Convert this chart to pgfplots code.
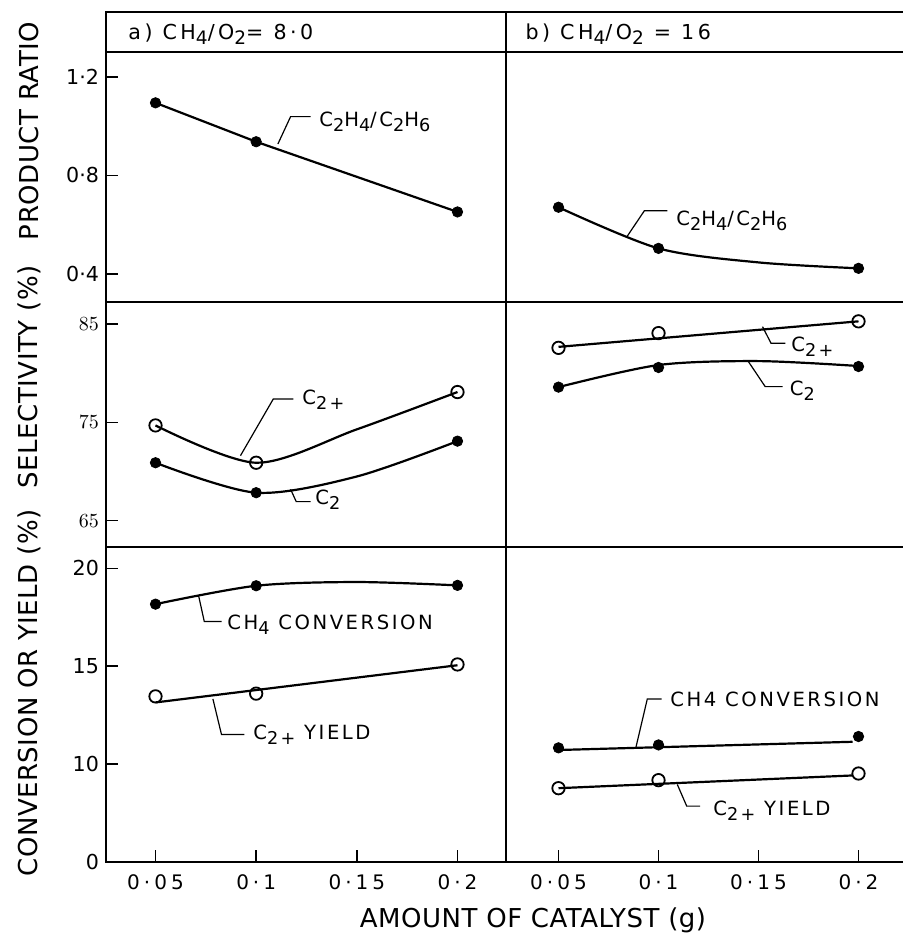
\documentclass[border=0pt]{standalone}
\usepackage{fontspec}
\setmainfont{DejaVu Sans}
\newfontfamily\lfh[LetterSpace=17]{DejaVu Sans}
\newfontfamily\lfa[LetterSpace=13]{DejaVu Sans}
\newfontfamily\lfx[LetterSpace=20]{DejaVu Sans}
\newfontfamily\lfy[LetterSpace=2]{DejaVu Sans}
\usepackage{pgfplots}
\pgfplotsset{compat=1.18}
\newcommand\sub[1]{\raisebox{-0.45ex}{\scalebox{0.9}{#1}}}
\pgfplotsset{
  panel/.style={scale only axis, anchor=south west,
    axis line style={line width=0.8pt},
    tick style={black, line width=0.8pt},
    major tick length=6pt, tick align=inside, tick pos=left,
    yticklabel style={font=\fontsize{10.3}{12}\selectfont},
    xticklabel style={font=\lfx\fontsize{10}{12}\selectfont, yshift=-3pt}},
  lcol/.style={xmin=0.02541, xmax=0.2241, width=200pt},
  rcol/.style={xmin=0.02375, xmax=0.22275, width=199pt},
  dl/.style={black, line width=1.1pt, no marks},
  fm/.style={black, only marks, mark=*, mark size=2.6pt},
  om/.style={black, only marks, mark=o, mark size=3.1pt, mark options={fill=white, line width=0.9pt}},
}
\tikzset{
  lead/.style={black, line width=0.6pt},
  tk/.style={black, line width=0.8pt},
  ann/.style={anchor=base west, inner sep=0pt, font=\lfa\fontsize{9.8}{11}\selectfont},
}
\begin{document}
\begin{tikzpicture}
\path[use as bounding box] (0,0) rectangle (451pt,467.5pt);
% header
\begin{axis}[panel, xtick=\empty, ytick=\empty, width=200pt, height=20pt, at={(53pt,441.5pt)}, xmin=0, xmax=1, ymin=0, ymax=1]
\node[anchor=base west, inner sep=0pt, font=\lfh\fontsize{10.3}{12}\selectfont] at (axis cs:0.055,0.32) {a) CH\sub{4}/O\sub{2}= 8·0};
\end{axis}
\begin{axis}[panel, xtick=\empty, ytick=\empty, width=199pt, height=20pt, at={(253pt,441.5pt)}, xmin=0, xmax=1, ymin=0, ymax=1]
\node[anchor=base west, inner sep=0pt, font=\lfh\fontsize{10.3}{12}\selectfont] at (axis cs:0.048,0.32) {b) CH\sub{4}/O\sub{2} = 16};
\end{axis}
% row 1
\begin{axis}[panel, lcol, xtick=\empty, height=125pt, at={(53pt,316.5pt)}, ymin=0.2863, ymax=1.3015,
  ytick={0.4,0.8,1.2}, yticklabels={0·4,0·8,1·2}]
\addplot[dl] coordinates {(0.05,1.095)(0.1,0.937)(0.2,0.652)};
\addplot[fm] coordinates {(0.05,1.095)(0.1,0.937)(0.2,0.652)};
\pgfplotsinvokeforeach{0.4,0.8,1.2}{\draw[tk] (axis cs:0.02541,#1) -- ++(6pt,0);}
\draw[lead] (axis cs:0.1108,0.928) -- (axis cs:0.1171,1.039) -- (axis cs:0.1271,1.039);
\node[ann] at (axis cs:0.1312,0.997) {C\sub{2}H\sub{4}/C\sub{2}H\sub{6}};
\end{axis}
\begin{axis}[panel, rcol, xtick=\empty, ytick=\empty, height=125pt, at={(253pt,316.5pt)}, ymin=0.2863, ymax=1.3015]
\addplot[dl, smooth] coordinates {(0.05,0.671)(0.1,0.504)(0.15,0.447)(0.2,0.423)};
\addplot[fm] coordinates {(0.05,0.671)(0.1,0.504)(0.2,0.423)};
\draw[lead] (axis cs:0.08425,0.552) -- (axis cs:0.09295,0.657) -- (axis cs:0.10445,0.657);
\node[ann] at (axis cs:0.10875,0.595) {C\sub{2}H\sub{4}/C\sub{2}H\sub{6}};
\end{axis}
% row 2
\begin{axis}[panel, lcol, xtick=\empty, height=122.5pt, at={(53pt,194pt)}, ymin=62.32, ymax=87.27,
  ytick={65,75,85}]
\addplot[dl, smooth] coordinates {(0.05,74.7)(0.1,70.9)(0.15,74.3)(0.2,78.1)};
\addplot[dl, smooth] coordinates {(0.05,70.9)(0.1,67.85)(0.15,69.5)(0.2,73.1)};
\addplot[om] coordinates {(0.05,74.7)(0.1,70.9)(0.2,78.1)};
\addplot[fm] coordinates {(0.05,70.9)(0.1,67.85)(0.2,73.1)};
\pgfplotsinvokeforeach{65,75,85}{\draw[tk] (axis cs:0.02541,#1) -- ++(6pt,0);}
\draw[lead] (axis cs:0.0922,71.62) -- (axis cs:0.1085,77.39) -- (axis cs:0.1185,77.39);
\node[ann] at (axis cs:0.1228,76.78) {C\sub{2+}};
\draw[lead] (axis cs:0.1171,68.2) -- (axis cs:0.1199,66.94) -- (axis cs:0.1271,66.94);
\node[ann] at (axis cs:0.1292,66.6) {C\sub{2}};
\end{axis}
\begin{axis}[panel, rcol, xtick=\empty, ytick=\empty, height=122.5pt, at={(253pt,194pt)}, ymin=62.32, ymax=87.27]
\addplot[dl] coordinates {(0.05,82.7)(0.2,85.3)};
\addplot[dl, smooth] coordinates {(0.05,78.6)(0.1,80.85)(0.15,81.25)(0.2,80.75)};
\addplot[om] coordinates {(0.05,82.6)(0.1,84.1)(0.2,85.3)};
\addplot[fm] coordinates {(0.05,78.6)(0.1,80.6)(0.2,80.7)};
\draw[lead] (axis cs:0.152,84.76) -- (axis cs:0.15625,83.07) -- (axis cs:0.16345,83.07);
\node[ann] at (axis cs:0.16625,82.21) {C\sub{2+}};
\draw[lead] (axis cs:0.14475,81.26) -- (axis cs:0.15335,78.65) -- (axis cs:0.162,78.65);
\node[ann] at (axis cs:0.1655,77.70) {C\sub{2}};
\end{axis}
% row 3
\begin{axis}[panel, lcol, height=157.5pt, at={(53pt,36.5pt)}, ymin=5, ymax=21.09,
  ytick={5,10,15,20}, yticklabels={0,10,15,20},
  xtick={0.05,0.1,0.15,0.2}, xticklabels={0·05,0·1,0·15,0·2}]
\addplot[dl, smooth] coordinates {(0.05,18.17)(0.1,19.11)(0.15,19.3)(0.2,19.13)};
\addplot[dl] coordinates {(0.05,13.15)(0.2,15.05)};
\addplot[fm] coordinates {(0.05,18.17)(0.1,19.11)(0.2,19.13)};
\addplot[om] coordinates {(0.05,13.46)(0.1,13.6)(0.2,15.09)};
\pgfplotsinvokeforeach{10,15,20}{\draw[tk] (axis cs:0.02541,#1) -- ++(6pt,0);}
\pgfplotsinvokeforeach{0.05,0.1,0.15,0.2}{\draw[tk] (axis cs:#1,5) -- ++(0,7.5pt);}
\draw[lead] (axis cs:0.07136,18.62) -- (axis cs:0.07424,17.28) -- (axis cs:0.08278,17.28);
\node[ann] at (axis cs:0.08551,16.86) {CH\sub{4} CONVERSION};
\draw[lead] (axis cs:0.07851,13.33) -- (axis cs:0.08278,11.51) -- (axis cs:0.0942,11.51);
\node[ann] at (axis cs:0.09843,11.25) {C\sub{2+} YIELD};
\end{axis}
\begin{axis}[panel, rcol, ytick=\empty, height=157.5pt, at={(253pt,36.5pt)}, ymin=5, ymax=21.09,
  xtick={0.05,0.1,0.15,0.2}, xticklabels={0·05,0·1,0·15,0·2}]
\addplot[dl] coordinates {(0.05,10.72)(0.197,11.14)};
\addplot[dl] coordinates {(0.05,8.77)(0.197,9.42)};
\addplot[fm] coordinates {(0.05,10.83)(0.1,10.98)(0.2,11.41)};
\addplot[om] coordinates {(0.05,8.77)(0.1,9.18)(0.2,9.52)};
\pgfplotsinvokeforeach{0.05,0.1,0.15,0.2}{\draw[tk] (axis cs:#1,5) -- ++(0,7.5pt);}
\draw[lead] (axis cs:0.08865,10.83) -- (axis cs:0.0944,13.33) -- (axis cs:0.1016,13.33);
\node[ann] at (axis cs:0.10575,12.95) {CH4 CONVERSION};
\draw[lead] (axis cs:0.1094,8.96) -- (axis cs:0.1141,7.855) -- (axis cs:0.12075,7.855);
\node[ann] at (axis cs:0.12725,7.38) {C\sub{2+} YIELD};
\end{axis}
% axis titles
\node[rotate=90, font=\lfy\fontsize{13}{15}\selectfont] at (14.75pt,402pt) {PRODUCT RATIO};
\node[rotate=90, font=\lfy\fontsize{13}{15}\selectfont] at (14.75pt,279pt) {SELECTIVITY (\%)};
\node[rotate=90, font=\lfy\fontsize{13}{15}\selectfont] at (14.75pt,121pt) {CONVERSION OR YIELD (\%)};
\node[anchor=base, inner sep=0pt, font=\lfy\fontsize{13}{15}\selectfont] at (266.5pt,3.5pt) {AMOUNT OF CATALYST (g)};
\end{tikzpicture}
\end{document}
